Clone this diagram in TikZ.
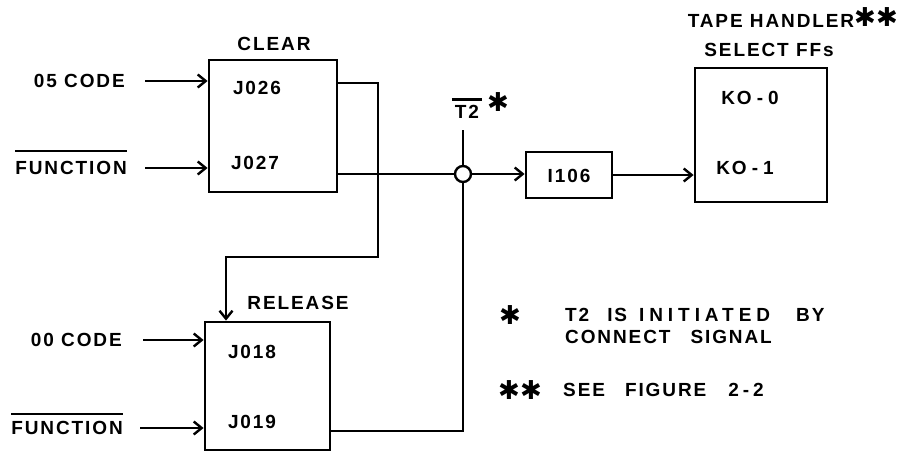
\documentclass[tikz,border=0pt]{standalone}
\usepackage{fontspec}
\setmainfont{Liberation Sans}[LetterSpace=10]
\newfontfamily\widefont{Liberation Sans}[LetterSpace=26]
\newfontfamily\starfont{DejaVu Sans}
\usetikzlibrary{arrows.meta}
\begin{document}
\begin{tikzpicture}[x=1pt,y=-1pt,
  lbl/.style={font=\fontsize{19}{22}\selectfont\bfseries, inner sep=0pt},
  box/.style={draw, line width=2.8pt, inner sep=0pt},
  wire/.style={line width=2.8pt},
  arr/.style={wire, -{Straight Barb[length=8pt,width=13pt,line width=2.4pt]}},
  st/.style={font=\fontsize{26}{28}\selectfont\starfont\bfseries, inner sep=0pt}]
\useasboundingbox (0,0) rectangle (904,453);

% boxes
\node[box, minimum width=128pt, minimum height=132pt] (clear) at (273,126) {};
\node[box, minimum width=125pt, minimum height=128pt] (release) at (267.5,386) {};
\node[box, minimum width=86pt, minimum height=46pt] (i106) at (569,175) {};
\node[box, minimum width=132pt, minimum height=134pt] (ko) at (761,135) {};

% labels
\node[lbl] (tclear) at (274,44) {CLEAR};
\node[lbl] (trelease) at (298,303) {RELEASE};
\node[lbl] (tj026) at (257,88) {J026};
\node[lbl] (tj027) at (255,163) {J027};
\node[lbl] (tj018) at (252,352) {J018};
\node[lbl] (tj019) at (252,422) {J019};
\node[lbl] (ti106) at (569,176) {I106};
\node[lbl] (tko0) at (750,98) {KO\hspace{5pt}-\hspace{5pt}0};
\node[lbl] (tko1) at (745,168) {KO\hspace{5pt}-\hspace{5pt}1};
\node[lbl] (ttape) at (771,21) {TAPE HANDLER};
\node[st] (s3) at (876,17) {✱✱};
\node[lbl] (tsel) at (769,50) {SELECT FFs};

\node[lbl, anchor=east] (c05) at (125,81) {05 CODE};
\node[lbl, anchor=east] (f1) at (127,168) {FUNCTION};
\node[lbl, anchor=east] (c00) at (122,340) {00 CODE};
\node[lbl, anchor=east] (f2) at (123,428) {FUNCTION};
\draw[wire] ([yshift=10pt]f1.north west) -- ([yshift=10pt]f1.north east);
\draw[wire] ([yshift=7pt]f2.north west) -- ([yshift=7pt]f2.north east);

\node[lbl] (t2) at (467,112) {T2};
\draw[wire] ([xshift=-3pt,yshift=6pt]t2.north west) -- ([xshift=3pt,yshift=6pt]t2.north east);
\node[st] (s1) at (498,102) {✱};

% junction
\node[draw, circle, line width=2.4pt, minimum size=16pt, inner sep=0pt] (junc) at (463,174) {};

% inputs
\draw[arr] ([xshift=20pt]c05.east) -- (c05 -| clear.west);
\draw[arr] ([xshift=18pt]f1.east) -- (f1 -| clear.west);
\draw[arr] ([xshift=21pt]c00.east) -- (c00 -| release.west);
\draw[arr] ([xshift=17pt]f2.east) -- (f2 -| release.west);

% feedback from J026 to RELEASE
\coordinate (q26) at (clear.east |- 0,83);
\coordinate (fbR) at (378,257);
\coordinate (fbL) at (226,257);
\draw[arr] (q26) -| (fbR) -| (fbL |- release.north);

% J027 to junction and on
\draw[wire] (clear.east |- junc) -- (junc.west);
\draw[arr] (junc.east) -- (i106.west |- junc);
\draw[arr] (i106.east) -- (i106.east -| ko.west);

% T2 line
\coordinate (t2top) at (463,130);
\coordinate (q19) at (release.east |- 0,431);
\draw[wire] (t2top) -- (junc.north);
\draw[wire] (junc.south) |- (q19);

% notes
\node[st] (s4) at (510,315) {✱};
\node[lbl, anchor=west] (n1) at (565,315) {T2\hspace{18pt}IS\hspace{12pt}{\widefont INITIATED}\hspace{26pt}BY};
\node[lbl, anchor=west] (n2) at (565,337) {CONNECT\hspace{20pt}SIGNAL};
\node[st] (s5) at (520,390) {✱✱};
\node[lbl, anchor=west] (n3) at (563,390) {SEE\hspace{20pt}FIGURE\hspace{22pt}2\hspace{4pt}-\hspace{4pt}2};
\end{tikzpicture}
\end{document}
